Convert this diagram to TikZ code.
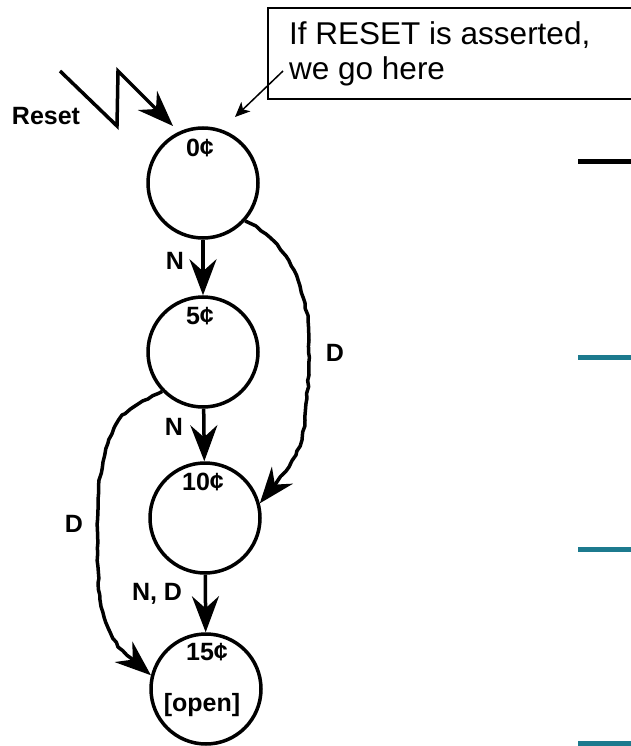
\documentclass[tikz,border=0pt]{standalone}
\usepackage{fontspec}
\setmainfont{Liberation Sans}
\usetikzlibrary{arrows.meta,decorations.pathmorphing}
\definecolor{slidebar}{RGB}{28,122,142}

\begin{document}
\begin{tikzpicture}[x=1pt,y=-1pt,
  state/.style={draw,circle,line width=3.5pt,minimum size=110pt,inner sep=0pt},
  lbl/.style={font=\fontsize{25}{30}\selectfont\bfseries,inner sep=0pt},
  notetext/.style={font=\fontsize{31.5}{35}\selectfont,anchor=base west,inner sep=0pt},
  trans/.style={line width=3.5pt,-{Stealth[length=36pt,width=27pt,inset=12pt]}},
  wobbly/.style={trans,line join=round,decorate,decoration={random steps,segment length=6pt,amplitude=0.9pt,pre length=4pt,post length=26pt}}]
\clip (0,0) rectangle (631,746);
% Bars on the right
\fill (578,159) rectangle (631,164);
\fill[slidebar] (578,355) rectangle (631,360);
\fill[slidebar] (578,547) rectangle (631,552);
\fill[slidebar] (578,741) rectangle (631,746);
% States
\node[state] (s0) at (203,183) {};
\node[state] (s5) at (203,352) {};
\node[state] (s10) at (205,518) {};
\node[state] (s15) at (206,689) {};
\node[lbl] (l0) at (200,148) {0¢};
\node[lbl] (l5) at (200,316) {5¢};
\node[lbl] (l10) at (203,482) {10¢};
\node[lbl] (l15) at (207,652) {15¢};
\node[lbl] (lopen) at (202,705) {[open]};
% Nickel and dime transitions
\draw[trans] (s0) -- (s5);
\draw[trans] (s5) -- (s10);
\draw[trans] (s10) -- (s15);
\node[lbl] (n1) at (175,261) {N};
\node[lbl] (n2) at (174,427) {N};
\node[lbl] (nd) at (157,594) {N, D};
\draw[wobbly] plot coordinates {(s0.-42) (256,226) (266,234) (277,244) (286,256) (294,270) (300,286) (305,303) (308,320) (309,340) (309,375) (307,398) (305,420) (302,440) (296,455) (289,467) (s10.15)};
\draw[wobbly] plot coordinates {(s5.-136) (148,399) (135,406) (122,415) (114,428) (108,443) (103,462) (99,480) (98,500) (98,583) (100,600) (104,617) (110,632) (118,647) (s15.166)};
\node[lbl] (d1) at (335,353) {D};
\node[lbl] (d2) at (74,524) {D};
% Reset input
\coordinate (r1) at (60,71);
\coordinate (r2) at (117,126);
\coordinate (r3) at (118,71);
\coordinate (r4) at (173,126);
\draw[trans] (r1) -- (r2) -- (r3) -- (r4);
\node[lbl] (reset) at (46,116) {Reset};
% Note
\node[draw,line width=2pt,anchor=north west,minimum width=420pt,minimum height=91pt] (notebox) at (267,7) {};
\node[notetext] (note1) at (289,45) {If RESET is asserted,};
\node[notetext] (note2) at (289,80) {we go here};
\coordinate (nfrom) at (283,71);
\coordinate (nto) at (235,117);
\draw[line width=1.5pt,-{Stealth[length=15pt,width=13pt,inset=4pt]}] (nfrom) -- (nto);
\end{tikzpicture}
\end{document}
